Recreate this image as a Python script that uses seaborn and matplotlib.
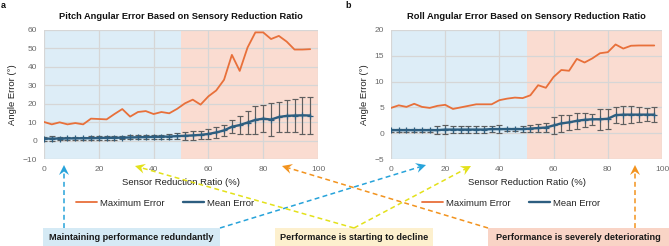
import numpy as np
import pandas as pd
import matplotlib
matplotlib.use("Agg")
import matplotlib.pyplot as plt
import seaborn as sns
from matplotlib.lines import Line2D
from matplotlib.patches import Rectangle, Polygon

sns.set_theme(style="white")
plt.rcParams['font.family'] = ['Liberation Sans', 'DejaVu Sans']

# ---------------- data ----------------
reduction_ratio = [0, 2.86, 5.71, 8.57, 11.43, 14.29, 17.14, 20, 22.86, 25.71, 28.57,
                   31.43, 34.29, 37.14, 40, 42.86, 45.71, 48.57, 51.43, 54.29, 57.14,
                   60, 62.86, 65.71, 68.57, 71.43, 74.29, 77.14, 80, 82.86, 85.71,
                   88.57, 91.43, 94.29, 97.14]

pitch_max = [10.1, 8.8, 9.9, 8.8, 9.5, 8.8, 11.9, 11.7, 11.5, 14.4, 17.1, 13.0, 15.5,
             16.0, 14.4, 15.5, 14.8, 17.2, 20.2, 22.2, 19.5, 24.0, 27.2, 33.0, 46.5,
             37.8, 50.5, 58.7, 58.7, 55.1, 56.8, 53.7, 49.4, 49.4, 49.6]
pitch_mean = [1.0, 1.1, 1.1, 1.2, 1.2, 1.3, 1.3, 1.4, 1.5, 1.5, 1.6, 1.7, 1.8, 1.9,
              2.0, 2.1, 2.2, 2.4, 2.6, 2.8, 3.1, 3.6, 4.4, 5.5, 7.5, 8.4, 9.8, 11.2,
              11.9, 11.4, 12.8, 13.4, 13.6, 13.7, 13.6]
pitch_std = [1.0, 1.2, 1.0, 0.8, 0.8, 0.9, 1.0, 1.1, 1.2, 1.2, 1.0, 1.1, 1.0, 1.2,
             1.1, 1.0, 1.2, 1.5, 2.2, 2.3, 2.3, 2.5, 3.0, 3.0, 3.6, 4.7, 6.0, 7.4,
             7.5, 9.0, 8.0, 8.5, 9.0, 10.0, 10.0]

roll_max = [4.9, 5.4, 5.1, 5.7, 5.1, 4.9, 5.3, 5.5, 4.7, 5.0, 5.3, 5.6, 5.6, 5.6,
            6.4, 6.7, 6.9, 6.8, 7.35, 9.3, 8.8, 10.9, 12.25, 12.1, 14.4, 13.7, 14.5,
            15.5, 15.7, 17.2, 16.4, 16.95, 17.0, 17.0, 17.0]
roll_mean = [0.6, 0.6, 0.6, 0.6, 0.6, 0.6, 0.6, 0.7, 0.7, 0.7, 0.7, 0.7, 0.7, 0.8,
             0.8, 0.8, 0.8, 0.8, 0.9, 1.0, 1.1, 1.5, 1.9, 2.1, 2.4, 2.6, 2.7, 2.7,
             2.8, 3.5, 3.6, 3.6, 3.6, 3.6, 3.6]
roll_std = [0.3, 0.3, 0.3, 0.3, 0.3, 0.3, 0.7, 0.8, 0.7, 0.6, 0.7, 0.7, 0.7, 0.5,
            0.7, 0.3, 0.3, 0.65, 0.6, 0.7, 0.85, 1.6, 1.6, 1.4, 1.5, 1.4, 1.1, 2.0,
            1.9, 1.6, 1.75, 1.6, 1.5, 1.3, 1.5]

titles = ["Pitch Angular Error Based on Sensory Reduction Ratio",
          "Roll Angular Error Based on Sensory Reduction Ratio"]
panel_letters = ["a", "b"]
x_ticks = [0, 20, 40, 60, 80, 100]
pitch_yticks = [-10, 0, 10, 20, 30, 40, 50, 60]
roll_yticks = [-5, 0, 5, 10, 15, 20]
legend_labels = ["Maximum Error", "Mean Error"]
box_texts = ["Maintaining performance redundantly",
             "Performance is starting to decline",
             "Performance is severely deteriorating"]

# ---------------- style ----------------
W, H = 669, 246
ORANGE = "#E8703A"
NAVY = "#2D5E80"
BG_BLUE = "#DDEDF7"
BG_RED = "#FADCD1"
GRID = "#D6D6D6"
TICKC = "#6A6A6A"
CYAN = "#27A3DA"
YELLOW = "#E3E11A"
ARR_OR = "#F2931E"

fig = plt.figure(figsize=(W / 100, H / 100), dpi=100)


def px_axes(l, t, r, b):
    return fig.add_axes([l / W, 1 - b / H, (r - l) / W, (b - t) / H])


def draw_panel(ax, mx, mean, std, yticks, title, letter, letter_x):
    ax.axvspan(0, 50, color=BG_BLUE, zorder=0, lw=0)
    ax.axvspan(50, 100, color=BG_RED, zorder=0, lw=0)
    for xv in x_ticks:
        ax.axvline(xv, color=GRID, lw=0.9, zorder=1)
    for yv in yticks:
        ax.axhline(yv, color=GRID, lw=0.9, zorder=1)
    df = pd.DataFrame({"ratio": reduction_ratio, "max": mx, "mean": mean, "std": std})
    sns.lineplot(data=df, x="ratio", y="max", ax=ax, color=ORANGE, lw=1.3,
                 zorder=3, legend=False)
    ax.errorbar(df["ratio"], df["mean"], yerr=df["std"], fmt="none",
                ecolor="#5E5E5E", elinewidth=0.85, capsize=2.3, capthick=0.85, zorder=4)
    sns.lineplot(data=df, x="ratio", y="mean", ax=ax, color=NAVY, lw=1.7,
                 marker="+", markersize=4, markeredgewidth=0.9, markeredgecolor=NAVY,
                 zorder=5, legend=False)
    ax.set_xlim(0, 100)
    ax.set_ylim(yticks[0], yticks[-1])
    ax.set_xticks(x_ticks)
    ax.set_yticks(yticks)
    ax.tick_params(axis="both", length=0, labelsize=6.0, colors=TICKC, pad=5)
    for s in ax.spines.values():
        s.set_visible(False)
    ax.set_xlabel("Sensor Reduction Ratio (%)", fontsize=6.8, color="#222222", labelpad=3.5)
    ax.set_ylabel("Angle Error (°)", fontsize=6.8, color="#222222", labelpad=4)
    ax.set_title(title, fontsize=6.7, fontweight="bold", color="#111111", pad=8)
    fig.text(letter_x / W, 1 - 6 / H, letter, fontsize=6.5, fontweight="bold",
             ha="left", va="center", color="#111111")
    handles = [Line2D([0], [0], color=ORANGE, lw=1.3),
               Line2D([0], [0], color=NAVY, lw=1.7)]
    return handles


ax_a = px_axes(44, 30, 318, 159)
h = draw_panel(ax_a, pitch_max, pitch_mean, pitch_std, pitch_yticks, titles[0],
               panel_letters[0], 1)
fig.legend(h, legend_labels, loc="center", bbox_to_anchor=(165 / W, 1 - 203 / H),
           ncol=2, frameon=False, fontsize=6.8, handlelength=2.2, handletextpad=0.3,
           columnspacing=2.0)

ax_b = px_axes(391, 30, 662, 159)
h = draw_panel(ax_b, roll_max, roll_mean, roll_std, roll_yticks, titles[1],
               panel_letters[1], 345)
fig.legend(h, legend_labels, loc="center", bbox_to_anchor=(511 / W, 1 - 203 / H),
           ncol=2, frameon=False, fontsize=6.8, handlelength=2.2, handletextpad=0.3,
           columnspacing=2.0)

# ---------------- overlay: boxes and dashed arrows ----------------
ov = fig.add_axes([0, 0, 1, 1], zorder=10)
ov.set_xlim(0, W)
ov.set_ylim(H, 0)
ov.axis("off")
ov.patch.set_alpha(0)

boxes = [(43, 220, "#D5EAF5", box_texts[0]),
         (275, 433, "#FDF0CE", box_texts[1]),
         (488, 669, "#F9D4C6", box_texts[2])]
for x0, x1, col, txt in boxes:
    ov.add_patch(Rectangle((x0, 228), x1 - x0, 18, color=col, lw=0, zorder=1))
    ov.text((x0 + x1) / 2, 237.5, txt, ha="center", va="center", fontsize=6.6,
            fontweight="bold", color="#1A1A1A", zorder=2)


def dashed_arrow(start, tip, color):
    s = np.array(start, float)
    t = np.array(tip, float)
    u = (t - s) / np.linalg.norm(t - s)
    n = np.array([-u[1], u[0]])
    L, hw, notch = 10.0, 5.0, 3.5
    end = t - (L - notch) * u
    ov.plot([s[0], end[0]], [s[1], end[1]], color=color, lw=1.1,
            ls=(0, (3.2, 2.2)), zorder=3, solid_capstyle="butt")
    pts = [t, t - L * u + hw * n, t - (L - notch) * u, t - L * u - hw * n]
    ov.add_patch(Polygon(pts, closed=True, color=color, lw=0, zorder=4))


dashed_arrow((64, 228), (64, 165), CYAN)
dashed_arrow((220, 228), (426, 165), CYAN)
dashed_arrow((354, 228), (135, 166), YELLOW)
dashed_arrow((354, 228), (471, 166), YELLOW)
dashed_arrow((488, 228), (282, 166), ARR_OR)
dashed_arrow((635, 228), (635, 165), ARR_OR)

fig.savefig("out.png", dpi=100)
